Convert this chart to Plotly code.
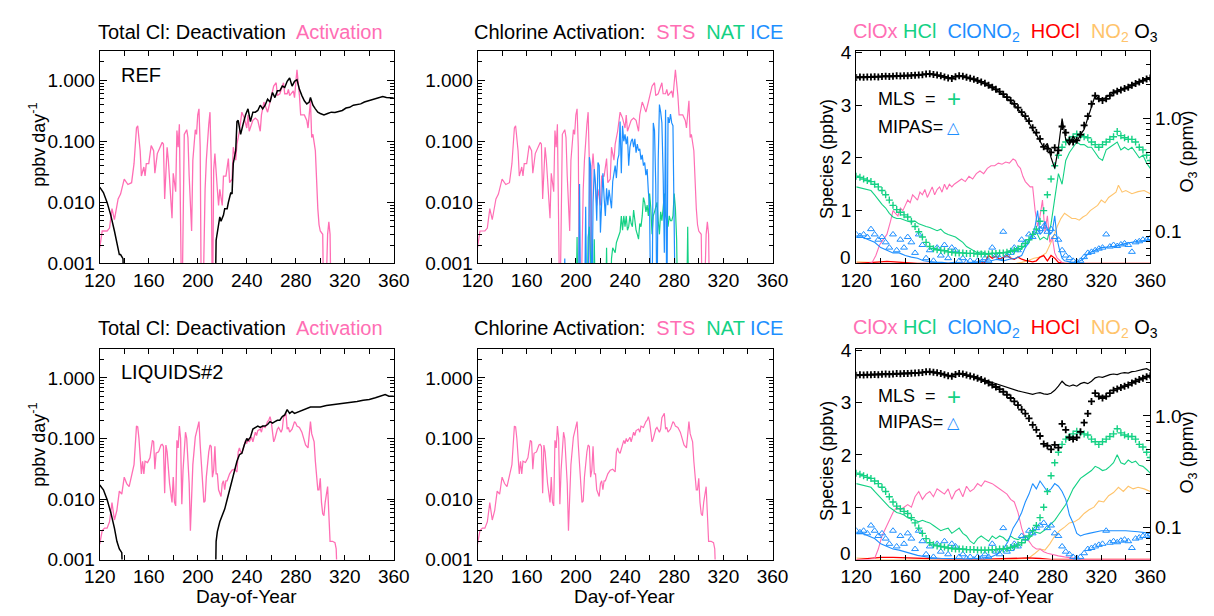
import plotly.graph_objects as go

W, H = 1214, 616
def fx(p): return p / W
def fy(p): return 1 - p / H

FONT = "Liberation Sans, Arial, Helvetica, sans-serif"
PINK = '#ff6eb4'; GREEN = '#14d184'; BLUE = '#1e8fff'; RED = '#ff0000'
ORANGE = '#ffc46c'; BLACK = '#000000'

# ---------------- Left / middle panels (ppbv/day, log) ----------------
sts_ref_day = [120,122,124,126,128,130,132,135,137,140,143,146,148,150,151,153,154,156,157,158,
               160,162,164,165,167,169,171,172,173,175,176,179,180,182,183,184,185,187,188,189,
               191,192,193,195,196,198,199,200,201,202,203,204,206,207,209,210,211,212,213,214,
               216,217,218,220,221,223,225,226,228,229,231,232,234,236,238,240,241,242,245,247,
               249,251,252,254,255,257,259,261,262,264,265,267,269,270,271,273,274,275,278,279,
               280,281,283,284,286,287,289,290,292,293,294,296,298,299,300,302,303,304,306,307,
               308,309]
sts_ref = [0.0018,0.0034,0.0034,0.0034,0.0038,0.0079,0.0052,0.0114,0.0137,0.024,
           0.0196,0.021,0.043,0.165,0.18,0.07,0.027,0.038,0.027,0.043,
           0.043,0.085,0.07,0.030,0.063,0.08,0.096,0.09,0.0114,0.08,
           0.049,0.0055,0.030,0.015,0.15,0.08,0.19,0.0001,0.0089,0.13,
           0.155,0.115,0.027,0.0034,0.049,0.155,0.13,0.27,0.34,0.08,
           0.0001,0.0001,0.0163,0.049,0.19,0.30,0.043,0.0001,0.034,0.063,
           0.0163,0.0089,0.0163,0.0089,0.027,0.027,0.052,0.021,0.024,0.08,
           0.049,0.09,0.146,0.30,0.24,0.165,0.27,0.146,0.22,0.24,
           0.22,0.146,0.27,0.44,0.39,0.30,0.44,0.63,0.80,0.91,
           0.56,0.60,0.80,0.91,0.60,0.60,0.71,0.56,0.67,0.52,
           0.91,1.48,0.56,0.27,0.27,0.27,0.22,0.165,0.46,0.115,
           0.13,0.07,0.0079,0.0043,0.0034,0.003,0.0001,0.0001,0.003,0.0048,
           0.003,0.0001]
act_ref_day = sts_ref_day
act_ref = sts_ref

nat_ref_day = [200,201,202,209,210,211,212,214,215,216,224,225,226,228,
               229,230,231,232,233,234,235,236,237,238,239,240,241,242,243,244,245,246,247,248,
               249,250,251,252,253,254,255,256,257,258,259,260,261,262,263,264,265,266,267,268,
               269,270,271,272,273,274,275,276,277,278,279,280,281,282,283,290,291,292]
nat_ref = [0.0001,0.0027,0.0001,0.0001,0.0027,0.004,0.0001,0.0001,0.0025,0.0001,0.0001,0.0018,0.0001,0.0001,
           0.0012,0.0018,0.0016,0.0015,0.0022,0.0025,0.003,0.0033,0.006,0.0035,
           0.006,0.004,0.006,0.0035,0.004,0.006,0.0045,0.004,0.0075,0.005,
           0.0035,0.003,0.0025,0.0045,0.004,0.006,0.012,0.01,0.007,0.009,
           0.006,0.014,0.008,0.003,0.006,0.007,0.009,0.01,0.005,0.003,
           0.007,0.005,0.008,0.014,0.006,0.005,0.004,0.006,0.005,0.005,
           0.006,0.014,0.008,0.0025,0.0001,0.0001,0.004,0.0001]

ice_ref_day = [190,191,192,200,202,203,204,207,208,209,
               210,211,212,213,214,215,216,217,218,219,220,221,222,223,224,225,226,227,228,229,
               230,231,232,233,234,235,236,237,238,239,240,241,242,243,244,245,246,247,248,249,
               250,251,252,253,254,255,256,257,258,259,260,261,262,263,264,265,266,267,268,269,
               270,271,272,273,274,275,276,277,278,279,280,281]
ice_ref = [0.0001,0.0012,0.0001,0.0001,0.0001,0.02,0.0001,0.0001,0.0085,0.0001,
           0.0001,0.055,0.04,0.0001,0.01,0.035,0.02,0.005,0.045,0.04,0.0032,0.009,0.03,0.012,0.006,0.017,0.009,0.016,0.012,0.008,
           0.022,0.03,0.04,0.025,0.05,0.06,0.21,0.03,0.18,0.1,0.13,0.09,0.12,0.04,0.08,0.1,0.11,0.08,0.11,0.065,
           0.09,0.07,0.075,0.05,0.06,0.04,0.045,0.028,0.035,0.015,0.008,0.0001,0.0001,0.2,0.15,0.02,0.0001,0.05,0.4,0.3,
           0.2,0.03,0.0015,0.33,0.0001,0.25,0.2,0.28,0.2,0.18,0.001,0.0001]

deact_ref_day = [120,123,126,129,132,134,136,137,139,140,
                 214,215,216,218,219,221,222,224,225,227,228,229,231,232,233,235,237,239,241,243,
                 245,247,249,251,253,255,257,259,261,263,265,267,269,271,273,275,277,279,281,283,
                 285,287,289,291,292,294,296,298,300,303,306,309,312,315,318,321,324,327,330,333,
                 336,339,342,345,348,351,354,357,360]
deact_ref = [0.0178,0.0145,0.01,0.0062,0.0034,0.0021,0.0014,0.0014,0.0012,0.0001,
             0.0001,0.0024,0.0034,0.0058,0.0049,0.0062,0.0079,0.0079,0.01,0.0145,0.0137,0.043,0.07,0.21,0.22,0.13,0.19,0.27,0.34,0.21,
             0.30,0.30,0.32,0.39,0.34,0.39,0.49,0.44,0.63,0.52,0.67,0.67,0.80,0.76,0.96,1.09,0.80,0.96,1.02,0.71,
             0.56,0.46,0.41,0.44,0.52,0.39,0.34,0.30,0.285,0.27,0.285,0.30,0.296,0.31,0.32,0.35,0.36,0.39,0.40,0.41,
             0.44,0.46,0.48,0.49,0.52,0.54,0.52,0.51,0.51]

sts_liq_day = [120,122,124,126,128,130,132,134,136,138,140,142,144,146,148,150,151,152,154,155,
               156,157,159,161,163,164,165,166,168,170,171,172,173,174,175,177,178,179,180,181,
               182,183,184,185,186,187,188,190,191,193,194,196,198,199,201,202,204,205,206,207,
               209,210,211,212,213,214,215,216,217,219,220,221,222,223,224,226,228,230,232,233,
               234,235,236,238,239,240,241,242,244,245,247,248,249,251,252,253,255,257,258,259,
               260,262,263,265,266,268,269,270,272,273,274,275,277,279,280,281,283,285,287,288,
               290,292,293,295,296,297,298,299,300,301,302,303,304,306,307,308,310,312,313,315]
sts_liq = [0.0018,0.003,0.0033,0.0033,0.0042,0.0087,0.0045,0.0065,0.0135,0.012,
           0.023,0.018,0.016,0.023,0.037,0.16,0.155,0.1,0.026,0.042,
           0.026,0.042,0.04,0.048,0.093,0.088,0.031,0.057,0.06,0.078,
           0.08,0.074,0.0125,0.078,0.06,0.018,0.0135,0.0088,0.023,0.0088,
           0.0077,0.093,0.07,0.16,0.1,0.0082,0.03,0.127,0.1,0.018,
           0.003,0.037,0.105,0.127,0.19,0.078,0.02,0.0088,0.0093,0.023,
           0.06,0.078,0.074,0.023,0.03,0.074,0.026,0.026,0.0142,0.011,
           0.018,0.02,0.0142,0.02,0.02,0.026,0.03,0.031,0.028,0.06,
           0.07,0.06,0.057,0.078,0.093,0.082,0.1,0.088,0.105,0.088,
           0.127,0.112,0.135,0.143,0.127,0.16,0.152,0.19,0.2,0.23,
           0.19,0.088,0.1,0.143,0.152,0.127,0.143,0.22,0.26,0.143,
           0.152,0.127,0.143,0.19,0.18,0.16,0.152,0.127,0.09,0.078,
           0.07,0.19,0.12,0.088,0.042,0.023,0.0142,0.0142,0.022,0.0088,
           0.0057,0.0053,0.0088,0.016,0.0068,0.002,0.002,0.0019,0.0015,0.0001]
act_liq_day = sts_liq_day
act_liq = sts_liq

deact_liq_day = [120,123,126,129,132,134,136,138,140,
                 214,215,216,218,220,222,224,226,228,230,232,234,236,238,240,241,243,245,247,249,
                 251,253,255,257,259,261,263,265,267,269,271,273,275,277,279,281,283,286,289,292,
                 295,300,305,310,315,320,325,330,335,340,345,350,353,356,360]
deact_liq = [0.017,0.0142,0.0098,0.006,0.0033,0.002,0.0015,0.0013,0.0001,
             0.0001,0.002,0.0029,0.0042,0.0053,0.0068,0.0098,0.0142,0.02,0.029,0.042,0.054,0.057,0.078,0.1,0.093,0.105,0.143,0.152,0.16,
             0.152,0.16,0.16,0.17,0.19,0.18,0.19,0.2,0.2,0.23,0.245,0.3,0.26,0.28,0.26,0.27,0.28,0.3,0.31,0.33,
             0.33,0.33,0.35,0.36,0.37,0.38,0.4,0.41,0.43,0.44,0.47,0.51,0.53,0.5,0.5]

# ---------------- Right panels (species ppbv, O3 ppmv) ----------------
obs_day = list(range(120, 361, 3))
o3_mls = [2.32,2.34,2.33,2.35,2.34,2.36,2.35,2.37,2.38,2.37,
          2.38,2.40,2.39,2.41,2.40,2.42,2.43,2.44,2.46,2.49,
          2.50,2.47,2.44,2.40,2.35,2.30,2.27,2.36,2.40,2.38,
          2.33,2.28,2.24,2.18,2.12,2.06,1.98,1.90,1.82,1.74,
          1.65,1.55,1.45,1.35,1.25,1.14,1.05,0.95,0.83,0.75,
          0.66,0.56,0.54,0.50,0.55,0.52,0.85,0.75,0.64,0.62,
          0.64,0.72,0.87,1.05,1.35,1.60,1.50,1.45,1.50,1.60,
          1.70,1.75,1.80,1.85,1.90,1.98,2.05,2.12,2.18,2.25,
          2.30]
hcl_mls = [1.65,1.63,1.60,1.57,1.55,1.50,1.45,1.38,1.30,1.20,
           1.10,1.02,0.97,0.92,0.88,0.80,0.70,0.60,0.50,0.40,
           0.32,0.28,0.26,0.25,0.24,0.22,0.21,0.20,0.20,0.20,
           0.19,0.19,0.19,0.18,0.18,0.18,0.18,0.19,0.19,0.20,
           0.20,0.21,0.23,0.25,0.28,0.32,0.38,0.45,0.55,0.65,
           0.80,1.00,1.30,1.60,1.85,2.05,2.20,2.30,2.35,2.40,
           2.45,2.42,2.40,2.38,2.30,2.25,2.20,2.25,2.30,2.35,
           2.40,2.50,2.42,2.38,2.35,2.35,2.30,2.20,2.15,2.05,
           1.95]
clono2_mipas = [0.55,0.52,0.55,0.50,0.65,0.55,0.45,0.50,0.40,0.30,
                0.55,0.25,0.45,0.30,0.50,0.40,0.20,0.55,0.35,0.10,
                0.25,0.05,0.30,0.15,0.35,0.10,0.30,0.25,0.05,0.10,
                0.02,0.05,0.00,0.05,0.02,0.10,0.05,0.30,0.15,0.10,
                0.60,0.15,0.20,0.30,0.25,0.45,0.40,0.55,0.50,0.60,
                0.65,0.70,0.60,0.65,0.50,0.45,0.25,0.15,0.10,0.05,
                0.03,0.05,0.12,0.20,0.22,0.25,0.28,0.30,0.55,0.32,
                0.35,0.33,0.36,0.38,0.35,0.22,0.40,0.42,0.45,0.45,
                0.48]

hcl_ref = [1.45,1.43,1.42,1.40,1.38,1.30,1.20,1.12,1.05,0.95,
           0.88,0.85,0.85,0.82,0.80,0.78,0.80,0.75,0.72,0.70,
           0.68,0.65,0.62,0.65,0.58,0.55,0.52,0.50,0.45,0.40,
           0.32,0.28,0.25,0.20,0.22,0.20,0.18,0.20,0.18,0.20,
           0.20,0.22,0.25,0.22,0.25,0.28,0.35,0.45,0.55,0.60,
           0.45,0.50,0.45,0.75,1.20,1.70,1.50,1.95,2.10,2.20,
           2.30,2.25,2.25,2.20,2.20,2.10,2.00,1.95,2.15,2.20,
           2.25,2.30,2.15,2.20,2.15,2.20,2.10,2.00,2.05,1.90,
           1.80]
hcl_liq = [1.45,1.43,1.42,1.40,1.38,1.30,1.22,1.15,1.08,1.00,
           0.95,0.90,0.88,0.85,0.80,0.78,0.75,0.72,0.75,0.72,
           0.70,0.65,0.60,0.55,0.58,0.60,0.50,0.55,0.60,0.50,
           0.45,0.35,0.30,0.40,0.45,0.40,0.35,0.45,0.40,0.45,
           0.42,0.35,0.45,0.40,0.38,0.42,0.45,0.40,0.48,0.52,
           0.50,0.55,0.60,0.68,0.75,0.85,0.95,1.05,1.20,1.35,
           1.45,1.55,1.60,1.65,1.70,1.78,1.75,1.70,1.72,1.78,
           1.85,2.00,1.85,1.82,1.90,1.85,1.88,1.80,1.78,1.72,
           1.65]
o3_ref = [2.35,2.33,2.36,2.34,2.37,2.35,2.38,2.36,2.39,2.38,
          2.40,2.39,2.41,2.42,2.41,2.43,2.44,2.45,2.47,2.50,
          2.48,2.45,2.42,2.38,2.33,2.28,2.30,2.38,2.42,2.36,
          2.31,2.26,2.22,2.16,2.10,2.03,1.96,1.88,1.80,1.72,
          1.62,1.53,1.43,1.33,1.22,1.12,1.02,0.92,0.80,0.72,
          0.62,0.55,0.60,0.45,0.36,0.55,1.00,0.65,0.58,0.70,
          0.62,0.72,0.80,1.00,1.30,1.60,1.50,1.48,1.55,1.62,
          1.70,1.76,1.82,1.86,1.92,2.00,2.06,2.12,2.18,2.25,
          2.30]
o3_liq = [2.35,2.33,2.36,2.34,2.37,2.35,2.38,2.36,2.39,2.38,
          2.40,2.39,2.41,2.42,2.41,2.43,2.44,2.45,2.47,2.50,
          2.48,2.45,2.42,2.38,2.33,2.28,2.30,2.38,2.42,2.36,
          2.31,2.27,2.24,2.20,2.15,2.10,2.05,2.00,1.95,1.90,
          1.85,1.80,1.75,1.70,1.68,1.65,1.62,1.58,1.56,1.60,
          1.62,1.58,1.56,1.60,1.70,1.85,2.05,1.90,1.85,1.90,
          1.85,1.95,2.00,1.95,2.05,2.20,2.25,2.22,2.30,2.35,
          2.38,2.35,2.42,2.45,2.43,2.50,2.52,2.58,2.62,2.66,
          2.55]

clox_ref_day = [120,125,130,133,136,139,142,145,148,150,152,154,156,158,160,162,164,166,168,170,
                172,174,176,178,180,182,184,186,188,190,192,194,196,198,200,203,206,209,212,215,
                218,221,224,227,230,233,236,239,242,245,248,250,252,254,256,258,260,262,264,266,
                268,270,272,274,276,278,280,282,284,286,288,290,300,360]
clox_ref = [0,0,0,0.02,0.15,0.35,0.45,0.55,0.8,1.0,0.95,0.9,1.05,1.0,1.1,1.2,1.15,1.3,1.25,1.2,
            1.35,1.3,1.4,1.25,1.35,1.45,1.3,1.4,1.45,1.35,1.5,1.4,1.5,1.45,1.5,1.55,1.6,1.55,1.65,1.6,
            1.7,1.75,1.7,1.8,1.85,1.85,1.9,1.88,1.92,1.9,1.98,1.95,1.85,1.8,1.65,1.55,1.5,1.45,1.45,1.0,
            0.7,0.9,1.2,0.6,0.9,0.4,0.5,0.2,0.1,0.05,0.02,0.0,0.0,0.0]
clox_liq_day = [120,130,135,138,141,144,147,150,153,156,159,162,165,168,171,174,177,180,183,186,
                189,192,195,198,201,204,207,210,213,216,219,222,225,228,231,234,237,240,243,246,
                249,252,255,258,261,264,267,270,273,276,279,282,285,290,295,300,305,360]
clox_liq = [0,0,0.02,0.2,0.45,0.6,0.75,0.9,1.0,0.95,1.0,1.05,1.0,1.2,1.3,1.15,1.25,1.3,1.2,1.35,
            1.3,1.25,1.35,1.15,1.3,1.35,1.2,1.4,1.3,1.35,1.45,1.4,1.5,1.48,1.45,1.4,1.35,1.3,1.25,1.15,
            1.1,0.9,0.6,0.4,0.35,0.25,0.2,0.2,0.15,0.12,0.1,0.08,0.07,0.05,0.03,0.01,0.0,0.0]

clono2_ref_day = [120,125,130,135,140,145,150,155,160,165,170,175,180,185,190,195,200,205,210,215,
                  220,225,230,235,240,245,250,255,258,261,264,266,268,270,272,274,276,278,280,282,
                  284,286,288,290,293,296,300,305,310,315,320,330,340,350,360]
clono2_ref = [0.5,0.5,0.45,0.4,0.3,0.25,0.2,0.2,0.15,0.12,0.1,0.05,0.03,0.02,0.02,0.01,0.02,0.01,0.0,0.02,
              0.03,0.03,0.05,0.08,0.05,0.08,0.1,0.15,0.3,0.4,0.55,0.7,1.0,0.55,0.6,0.8,0.65,0.55,0.6,0.9,
              0.45,0.25,0.1,0.05,0.03,0.02,0.02,0.08,0.2,0.25,0.3,0.32,0.38,0.42,0.45]
clono2_liq_day = [120,125,130,135,140,145,150,155,160,165,170,180,190,200,210,220,230,235,240,244,
                  248,252,255,258,261,264,267,270,273,276,279,282,285,288,291,294,297,300,303,306,
                  310,315,320,330,340,350,360]
clono2_liq = [0.5,0.5,0.45,0.4,0.3,0.25,0.2,0.18,0.15,0.12,0.08,0.04,0.02,0.02,0.01,0.02,0.05,0.1,0.2,0.35,
              0.6,0.75,0.9,1.1,1.25,1.45,1.35,1.5,1.4,1.3,1.35,1.45,1.4,1.3,1.15,0.85,0.7,0.5,0.45,0.48,
              0.5,0.52,0.55,0.55,0.55,0.53,0.5]

hocl_ref_day = [120,130,135,140,145,150,155,160,170,180,200,220,225,228,231,234,237,240,243,246,
                249,252,255,258,261,264,267,270,273,276,279,282,285,290,300,360]
hocl_ref = [0.0,0.01,0.02,0.03,0.04,0.03,0.02,0.01,0.0,0.0,0.0,0.0,0.02,0.15,0.1,0.14,0.08,0.12,0.15,0.1,
            0.08,0.12,0.08,0.06,0.05,0.03,0.05,0.12,0.15,0.05,0.15,0.1,0.02,0.0,0.0,0.0]
hocl_liq_day = [120,130,140,150,160,170,180,200,220,240,250,260,270,275,280,290,300,360]
hocl_liq = [0.0,0.02,0.04,0.04,0.03,0.02,0.01,0.0,0.0,0.01,0.02,0.03,0.02,0.01,0.0,0.0,0.0,0.0]

no2_ref_day = [120,125,130,135,140,150,200,250,255,260,265,270,275,278,281,284,287,290,293,296,
               299,302,305,308,311,314,317,320,323,326,329,332,334,337,340,345,350,355,360]
no2_ref = [0.03,0.03,0.02,0.01,0.0,0.0,0.0,0.0,0.02,0.05,0.1,0.12,0.2,0.35,0.5,0.7,0.85,0.95,0.9,0.85,
           0.85,0.82,0.88,0.92,1.0,1.05,1.1,1.2,1.15,1.25,1.3,1.35,1.48,1.35,1.38,1.32,1.36,1.38,1.32]
no2_liq_day = [120,125,130,135,140,150,200,250,258,262,266,270,274,278,282,286,290,294,298,302,
               306,310,314,318,322,326,330,334,338,342,346,350,355,360]
no2_liq = [0.03,0.03,0.02,0.01,0.0,0.0,0.0,0.0,0.02,0.05,0.12,0.2,0.18,0.3,0.45,0.55,0.62,0.7,0.72,0.78,
           0.88,0.95,1.0,1.12,1.1,1.22,1.28,1.38,1.3,1.4,1.35,1.38,1.35,1.3]

x_ticks = [120, 160, 200, 240, 280, 320, 360]
x_minor = [140, 180, 220, 260, 300, 340]
log_ticks = [0.001, 0.01, 0.1, 1.0]
log_labels = ['0.001', '0.010', '0.100', '1.000']
species_ticks = [0, 1, 2, 3, 4]
species_labels = ['', '1', '2', '3', '4']   # the "0" label is placed slightly higher, as in the original
o3_ticks = [0.1, 1.0]
o3_labels = ['0.1', '1.0']

# ---------------- Figure ----------------
fig = go.Figure()

def line(x, y, xa, ya, color, width=1.2):
    assert len(x) == len(y), (len(x), len(y))
    fig.add_trace(go.Scatter(x=x, y=y, xaxis=xa, yaxis=ya, mode='lines',
                             line=dict(color=color, width=width), showlegend=False,
                             hoverinfo='skip'))

def marks(x, y, xa, ya, color, symbol, size, lw=1.0):
    assert len(x) == len(y), (len(x), len(y))
    fig.add_trace(go.Scatter(x=x, y=y, xaxis=xa, yaxis=ya, mode='markers',
                             marker=dict(symbol=symbol, size=size, color=color,
                                         line=dict(color=color, width=lw)),
                             showlegend=False, hoverinfo='skip', cliponaxis=True))

# Panel 1: REF total Cl
line(act_ref_day, act_ref, 'x', 'y', PINK, 1.3)
line(deact_ref_day, deact_ref, 'x', 'y', BLACK, 1.5)
# Panel 2: REF activation by PSC type
line(sts_ref_day, sts_ref, 'x2', 'y2', PINK, 1.2)
line(nat_ref_day, nat_ref, 'x2', 'y2', GREEN, 1.2)
line(ice_ref_day, ice_ref, 'x2', 'y2', BLUE, 1.2)
# Panel 4: LIQUIDS#2 total Cl
line(act_liq_day, act_liq, 'x4', 'y4', PINK, 1.3)
line(deact_liq_day, deact_liq, 'x4', 'y4', BLACK, 1.5)
# Panel 5
line(sts_liq_day, sts_liq, 'x5', 'y5', PINK, 1.2)

# Panels 3 and 6: species
for xa, ya, yo, clox_d, clox, hcl, clono2_d, clono2, hocl_d, hocl, no2_d, no2, o3m in [
        ('x3', 'y3', 'y7', clox_ref_day, clox_ref, hcl_ref, clono2_ref_day, clono2_ref,
         hocl_ref_day, hocl_ref, no2_ref_day, no2_ref, o3_ref),
        ('x6', 'y6', 'y8', clox_liq_day, clox_liq, hcl_liq, clono2_liq_day, clono2_liq,
         hocl_liq_day, hocl_liq, no2_liq_day, no2_liq, o3_liq)]:
    line(no2_d, no2, xa, ya, ORANGE, 1.1)
    line(hocl_d, hocl, xa, ya, RED, 1.3)
    line(clox_d, clox, xa, ya, PINK, 1.1)
    line(obs_day, hcl, xa, ya, GREEN, 1.1)
    line(clono2_d, clono2, xa, ya, BLUE, 1.1)
    marks(obs_day, clono2_mipas, xa, ya, BLUE, 'triangle-up-open', 6, 1.0)
    marks(obs_day, hcl_mls, xa, ya, GREEN, 'cross-thin-open', 5, 1.4)
    line(obs_day, o3m, xa, yo, BLACK, 1.2)
    marks(obs_day, o3_mls, xa, yo, BLACK, 'cross-thin-open', 5, 1.8)

# ---------------- Layout ----------------
panels = {1: (86, 388, 43, 263), 2: (474, 777, 43, 263), 3: (863, 1165, 43, 263),
          4: (86, 388, 351, 569), 5: (474, 777, 351, 569), 6: (863, 1165, 351, 569)}
TICKFONT = dict(family=FONT, size=19, color='black')
layout = dict(width=W, height=H, margin=dict(l=0, r=0, t=0, b=0), autosize=False,
              paper_bgcolor='white', plot_bgcolor='white', showlegend=False,
              font=dict(family=FONT, color='black'))

log_minor = [m * 10 ** e for e in (-3, -2, -1, 0) for m in range(2, 10) if m * 10 ** e < 3.1]
o3_minor = [0.06, 0.07, 0.08, 0.09, 0.2, 0.3, 0.4, 0.5, 0.6, 0.7, 0.8, 0.9, 2, 3, 4]

for k, (x0, x1, y0, y1) in panels.items():
    xs = '' if k == 1 else str(k)
    layout['xaxis' + xs] = dict(domain=[fx(x0), fx(x1)], anchor='y' + xs, range=[120, 360],
                                tickvals=x_ticks, ticks='inside', ticklen=5, tickwidth=1,
                                tickcolor='black', showline=True, linecolor='black', linewidth=1,
                                mirror='allticks', showgrid=False, zeroline=False,
                                tickfont=TICKFONT,
                                minor=dict(tickvals=x_minor, ticks='inside', ticklen=5,
                                           tickcolor='black', showgrid=False))
    if k in (3, 6):
        layout['yaxis' + xs] = dict(domain=[fy(y1), fy(y0)], anchor='x' + xs, range=[0, 4.03],
                                    tickvals=species_ticks, ticktext=species_labels,
                                    ticks='inside', ticklen=6,
                                    tickcolor='black', showline=True, linecolor='black',
                                    linewidth=1, mirror=True, showgrid=False, zeroline=False,
                                    tickfont=TICKFONT)
    else:
        layout['yaxis' + xs] = dict(domain=[fy(y1), fy(y0)], anchor='x' + xs, type='log',
                                    range=[-3, 0.485], tickvals=log_ticks, ticktext=log_labels,
                                    ticks='inside', ticklen=7, tickcolor='black', showline=True,
                                    linecolor='black', linewidth=1, mirror='allticks',
                                    showgrid=False, zeroline=False, tickfont=TICKFONT,
                                    minor=dict(tickvals=log_minor, ticks='inside', ticklen=4,
                                               tickcolor='black', showgrid=False))

for name, base in (('yaxis7', '3'), ('yaxis8', '6')):
    layout[name] = dict(overlaying='y' + base, anchor='x' + base, side='right', type='log',
                        range=[-1.29, 0.605], tickvals=o3_ticks, ticktext=o3_labels,
                        ticks='inside', ticklen=7, tickcolor='black', showline=True,
                        linecolor='black', linewidth=1, showgrid=False, zeroline=False,
                        tickfont=TICKFONT,
                        minor=dict(tickvals=o3_minor, ticks='inside', ticklen=4,
                                   tickcolor='black', showgrid=False))

fig.update_layout(**layout)

def ann(text, x, y, size=19, xanchor='center', angle=0, color='black'):
    fig.add_annotation(text=text, x=fx(x), y=fy(y), xref='paper', yref='paper',
                       showarrow=False, xanchor=xanchor, yanchor='middle', textangle=angle,
                       font=dict(family=FONT, size=size, color=color))

def sp(c, t):
    return f"<span style='color:{c}'>{t}</span>"

for row_y in (24, 330):
    ann("Total Cl: Deactivation  " + sp(PINK, "Activation"), 231, row_y, 20)
    ann("Chlorine Activation:  " + sp(PINK, "STS") + "  " + sp(GREEN, "NAT") + " " + sp(BLUE, "ICE"),
        629, row_y, 20)
    ann(sp(PINK, "ClOx") + " " + sp(GREEN, "HCl") + "  " + sp(BLUE, "ClONO<sub>2</sub>") + "  "
        + sp(RED, "HOCl") + "  " + sp(ORANGE, "NO<sub>2</sub>") + " O<sub>3</sub>",
        1016, row_y, 20)

# species-axis "0" labels, lifted a little above the corner like the original
ann("0", 860, 257, 19, xanchor='right')
ann("0", 860, 563, 19, xanchor='right')

ann("REF", 106, 68, 20, xanchor='left')
ann("LIQUIDS#2", 106, 375, 20, xanchor='left')

for yc in (140, 450):
    ann("ppbv day<sup>-1</sup>", 22, yc, 18, angle=-90)
for yc in (155, 467):
    ann("Species (ppbv)", 833, yc, 18, angle=-90)
for yc in (147, 458):
    ann("O<sub>3</sub> (ppmv)", 1204, yc, 18, angle=-90)
for xc in (237, 625, 1014):
    ann("Day-of-Year", xc, 607, 19)

for yl, yt in ((93, 122), (400, 427)):
    ann("MLS  =", 883, yl, 18, xanchor='left')
    ann("+", 963, yl, 24, color=GREEN)
    ann("MIPAS=", 883, yt, 18, xanchor='left')
    ann("\u25B3", 963, yt, 16, color=BLUE)

fig.write_html("out.html")
